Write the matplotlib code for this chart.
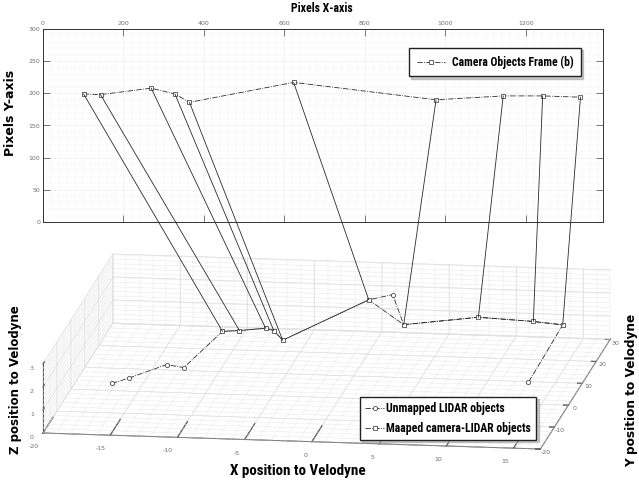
import numpy as np
import matplotlib
matplotlib.use('Agg')
import matplotlib.pyplot as plt
from matplotlib import font_manager as fm
from matplotlib.lines import Line2D
from matplotlib.ticker import MultipleLocator
from mpl_toolkits.mplot3d import proj3d

# camera detections, image pixel coordinates
cam_x = [101, 143, 269, 328, 364, 623, 977, 1144, 1242, 1336]
cam_y = [199, 198, 208, 199, 186, 217, 190, 196, 196, 194]

# lidar objects in velodyne frame (scan order)
lid_x = [-16.2, -15.2, -13.1, -11.7, -9.5, -8.3, -6.5, -5.8, -4.7, -0.3, 1.2, 3.4, 8.5, 12.7, 15.0, 14.1]
lid_y = [-7.1, -4.4, 2.1, 1.0, 7.5, 8.1, 9.5, 8.6, 4.4, 23.7, 26.4, 13.1, 17.5, 16.4, 15.3, -0.6]
lid_z = [1, 1, 1, 1, 2, 2, 2, 2, 2, 2, 2, 2, 2, 2, 2, 1]
mapped = [4, 5, 6, 7, 8, 9, 11, 12, 13, 14]      # matched to cam points in order
unmapped = [0, 1, 2, 3, 10, 15]

plt.rcParams['axes.unicode_minus'] = False

# pick a narrow bold face if one is installed
fams = {(f.name, f.stretch) for f in fm.fontManager.ttflist}
names = {n for n, _ in fams}
NARROW = dict(family='Liberation Sans', weight='bold')
for cand in ['Liberation Sans Narrow', 'Roboto Condensed', 'Open Sans Condensed']:
    if cand in names:
        NARROW = dict(family=cand, weight='bold')
        break
else:
    if any(n == 'DejaVu Sans' and s == 'condensed' for n, s in fams):
        NARROW = dict(family='DejaVu Sans', stretch='condensed', weight='bold')

LINE = '#2b2b2b'
TICKC = '#6e6e6e'

W, H = 639, 483
fig = plt.figure(figsize=(W / 100, H / 100), dpi=100)


def fit_size(s, width_px, **kw):
    t = fig.text(0, 0, s, size=10, **kw)
    w = t.get_window_extent(fig.canvas.get_renderer()).width
    t.remove()
    return 10 * width_px / w


# ---- top: camera frame ----
ax = fig.add_axes([43 / W, 1 - 222 / H, 560 / W, 193 / H])
ax.plot(cam_x, cam_y, '-.', color=LINE, lw=0.6, marker='s', ms=3, mfc='white',
        mec=LINE, mew=0.5, label='Camera Objects Frame (b)')
ax.set_xlim(0, 1392)
ax.set_ylim(0, 300)
ax.xaxis.set_major_locator(MultipleLocator(200))
ax.xaxis.set_minor_locator(MultipleLocator(20))
ax.yaxis.set_major_locator(MultipleLocator(50))
ax.yaxis.set_minor_locator(MultipleLocator(10))
ax.tick_params(which='both', direction='in', top=True, right=True, labeltop=True,
               labelbottom=False, labelsize=4.5, labelcolor=TICKC, color='#444')
ax.tick_params(which='major', length=5, width=0.5, pad=2)
ax.tick_params(which='minor', length=0)
ax.grid(which='major', color='#cfcfcf', lw=0.4, ls=':')
ax.grid(which='minor', color='#dedede', lw=0.3, ls=':')
for s in ax.spines.values():
    s.set_color('#333')
    s.set_linewidth(0.7)
leg_sz = fit_size('Camera Objects Frame (b)', 122, **NARROW)
ax.legend(loc='upper left', bbox_to_anchor=(409 / W, 1 - 48 / H), bbox_transform=fig.transFigure,
          prop=dict(size=leg_sz, **NARROW), fancybox=False, borderaxespad=0,
          edgecolor='#222', framealpha=1, handlelength=2.4, handletextpad=0.6, borderpad=0.65,
          shadow={'ox': 1.5, 'oy': -1.5, 'shade': 0.4})

# ---- bottom: lidar 3d ----
ax3 = fig.add_axes([0, 0, 1, 1], projection='3d', proj_type='ortho', computed_zorder=False)
ax3.patch.set_alpha(0)
ax3.view_init(elev=13.0, azim=-81.85)
ax3.set_box_aspect((502, 494, 71))
ax3.set_xticks(range(-20, 16, 5))
ax3.set_yticks(range(-20, 31, 10))
ax3.set_zticks(range(0, 4))
for a, out, pad in ((ax3.xaxis, 1.8, 8), (ax3.yaxis, 0.12, -5), (ax3.zaxis, 0.25, -3)):
    a.set_pane_color((1, 1, 1, 0))
    a.pane.set_edgecolor('none')
    a.line.set_color('#333')
    a.line.set_linewidth(0.7)
    a._axinfo['grid'].update(color='#d3d3d3', linewidth=0.4)
    a._axinfo['tick']['inward_factor'] = 0.0
    a._axinfo['tick']['outward_factor'] = out
    a.set_tick_params(labelsize=4.5, labelcolor=TICKC, pad=pad)
ax3.zaxis.set_ticks_position('lower')

# minor grid on the three back walls
gk = dict(color='#e3e3e3', lw=0.3, zorder=1)
for xv in np.arange(-20, 17.01, 1):
    ax3.plot([xv, xv], [-20, 30], [0, 0], **gk)
    ax3.plot([xv, xv], [30, 30], [0, 3], **gk)
for yv in np.arange(-20, 30.01, 2):
    ax3.plot([-20, 17], [yv, yv], [0, 0], **gk)
    ax3.plot([-20, -20], [yv, yv], [0, 3], **gk)
for zv in np.arange(0, 3.01, 0.2):
    ax3.plot([-20, -20], [-20, 30], [zv, zv], **gk)
    ax3.plot([-20, 17], [30, 30], [zv, zv], **gk)

lx, ly, lz = np.array(lid_x), np.array(lid_y), np.array(lid_z)
l_un, = ax3.plot(lx, ly, lz, '-.', color=LINE, lw=0.6, marker='o', ms=3, mfc='white',
                 mec=LINE, mew=0.5, markevery=unmapped, zorder=5, label='Unmapped LIDAR objects')
l_map, = ax3.plot(lx[mapped], ly[mapped], lz[mapped], '-.', color=LINE, lw=0.6, marker='s', ms=3,
                  mfc='white', mec=LINE, mew=0.5, zorder=6, label='Maaped camera-LIDAR objects')
h_un = Line2D([], [], ls='-.', color=LINE, lw=0.6, marker='o', ms=3, mfc='white', mec=LINE, mew=0.5)
leg3_sz = fit_size('Maaped camera-LIDAR objects', 145, **NARROW)
ax3.legend([h_un, l_map], [l_un.get_label(), l_map.get_label()], loc='upper left',
           bbox_to_anchor=(360 / W, 1 - 397 / H), bbox_transform=fig.transFigure,
           prop=dict(size=leg3_sz, **NARROW), fancybox=False, borderaxespad=0,
           edgecolor='#222', framealpha=1, handlelength=1.6, handletextpad=0.2,
           borderpad=0.45, labelspacing=0.55, shadow={'ox': 1.5, 'oy': -1.5, 'shade': 0.4})

# limits last so the plot calls cannot touch them
ax3.set_xlim(-20, 17)
ax3.set_ylim(-20, 30.3)
ax3.set_zlim(0, 3.01)


def to_disp(x, y, z):
    xs, ys, _ = proj3d.proj_transform(np.asarray(x, float), np.asarray(y, float),
                                      np.asarray(z, float), ax3.get_proj())
    return ax3.transData.transform(np.column_stack([xs, ys]))


# fit the 3d box onto the reference corners
tgt = np.array([[43, H - 433], [610, H - 339]], float)
fig.canvas.draw()
p = to_disp([-20, 17], [-20, 30], [0, 0])
k = np.hypot(*(tgt[1] - tgt[0])) / np.hypot(*(p[1] - p[0]))
side = H * k
ax3.set_position([(W - side) / 2 / W, (H - side) / 2 / H, side / W, side / H])
fig.canvas.draw()
p = to_disp([-20], [-20], [0])
d = tgt[0] - p[0]
ax3.set_position([((W - side) / 2 + d[0]) / W, ((H - side) / 2 + d[1]) / H, side / W, side / H])
fig.canvas.draw()
for t in ax3.xaxis.get_ticklabels():
    t.set_horizontalalignment('right')

# camera -> lidar correspondences
cam_d = ax.transData.transform(np.column_stack([cam_x, cam_y]))
lid_d = to_disp(lx[mapped], ly[mapped], lz[mapped])
for a, b in zip(cam_d, lid_d):
    fig.add_artist(Line2D([a[0] / W, b[0] / W], [a[1] / H, b[1] / H], transform=fig.transFigure,
                          color=LINE, lw=0.6))

fig.text(322 / W, 1 - 8 / H, 'Pixels X-axis', ha='center', va='center',
         size=fit_size('Pixels X-axis', 62, **NARROW), **NARROW)
fig.text(11 / W, 1 - 113 / H, 'Pixels Y-axis', rotation=90, ha='center', va='center',
         weight='bold', size=9)
fig.text(16 / W, 1 - 380 / H, 'Z position to Velodyne', rotation=90, ha='center', va='center',
         weight='bold', size=8.5)
fig.text(632 / W, 1 - 390 / H, 'Y position to Velodyne', rotation=90, ha='center', va='center',
         weight='bold', size=8.7)
fig.text(298 / W, 1 - 471 / H, 'X position to Velodyne', ha='center', va='center',
         size=fit_size('X position to Velodyne', 136, **NARROW), **NARROW)

fig.savefig('out.png', dpi=100)
